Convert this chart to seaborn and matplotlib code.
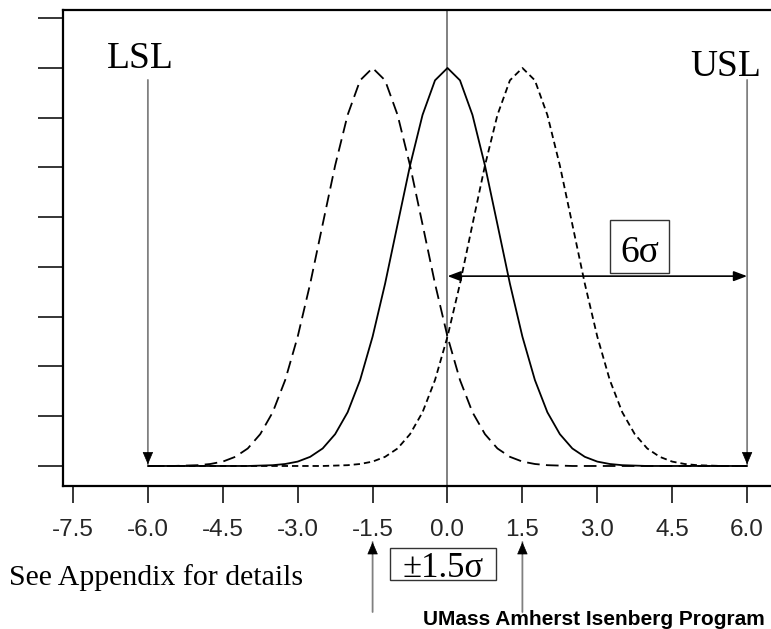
import matplotlib
matplotlib.use("Agg")
import matplotlib.pyplot as plt
import seaborn as sns
import pandas as pd
from matplotlib.patches import Rectangle

# ---- data (relative density heights) ----
x_grid = [-6.0, -5.75, -5.5, -5.25, -5.0, -4.75, -4.5, -4.25, -4.0, -3.75,
          -3.5, -3.25, -3.0, -2.75, -2.5, -2.25, -2.0, -1.75, -1.5, -1.25,
          -1.0, -0.75, -0.5, -0.25, 0.0, 0.25, 0.5, 0.75, 1.0, 1.25,
          1.5, 1.75, 2.0, 2.25, 2.5, 2.75, 3.0, 3.25, 3.5, 3.75,
          4.0, 4.25, 4.5, 4.75, 5.0, 5.25, 5.5, 5.75, 6.0]

centered = [0, 0, 0, 0, 0, 0, 0, 0, 0, 0.001,
            0.002, 0.005, 0.011, 0.023, 0.044, 0.080, 0.135, 0.216, 0.325, 0.458,
            0.607, 0.755, 0.882, 0.969, 1.000, 0.969, 0.882, 0.755, 0.607, 0.458,
            0.325, 0.216, 0.135, 0.080, 0.044, 0.023, 0.011, 0.005, 0.002, 0.001,
            0, 0, 0, 0, 0, 0, 0, 0, 0]

shifted_left = [0, 0, 0, 0.001, 0.002, 0.005, 0.011, 0.023, 0.044, 0.080,
                0.135, 0.216, 0.325, 0.458, 0.607, 0.755, 0.882, 0.969, 1.000, 0.969,
                0.882, 0.755, 0.607, 0.458, 0.325, 0.216, 0.135, 0.080, 0.044, 0.023,
                0.011, 0.005, 0.002, 0.001, 0, 0, 0, 0, 0, 0,
                0, 0, 0, 0, 0, 0, 0, 0, 0]

shifted_right = [0, 0, 0, 0, 0, 0, 0, 0, 0, 0,
                 0, 0, 0, 0, 0, 0.001, 0.002, 0.005, 0.011, 0.023,
                 0.044, 0.080, 0.135, 0.216, 0.325, 0.458, 0.607, 0.755, 0.882, 0.969,
                 1.000, 0.969, 0.882, 0.755, 0.607, 0.458, 0.325, 0.216, 0.135, 0.080,
                 0.044, 0.023, 0.011, 0.005, 0.002, 0.001, 0, 0, 0]

x_ticks = [-7.5, -6.0, -4.5, -3.0, -1.5, 0.0, 1.5, 3.0, 4.5, 6.0]
x_tick_labels = ["-7.5", "-6.0", "-4.5", "-3.0", "-1.5", "0.0", "1.5", "3.0", "4.5", "6.0"]
y_ticks = [0, 0.125, 0.25, 0.375, 0.5, 0.625, 0.75, 0.875, 1.0, 1.125]

LSL, USL, center = -6.0, 6.0, 0.0
shift_marks = [-1.5, 1.5]

# ---- style ----
sns.set_theme(style="white")
plt.rcParams["font.family"] = ["Liberation Sans", "DejaVu Sans"]
plt.rcParams["axes.unicode_minus"] = False

W, H = 771, 629
fig = plt.figure(figsize=(W / 100, H / 100), dpi=100)
# axes extends beyond the right edge of the figure (as in the reference)
ax = fig.add_axes([63 / W, (H - 486) / H, (832 - 63) / W, 476 / H])

df = pd.DataFrame({
    "x": x_grid * 3,
    "y": centered + shifted_left + shifted_right,
    "curve": ["center"] * 49 + ["left"] * 49 + ["right"] * 49,
})

sns.lineplot(data=df[df.curve == "center"], x="x", y="y", ax=ax, color="black",
             lw=1.3, estimator=None, sort=False, legend=False)
sns.lineplot(data=df[df.curve == "left"], x="x", y="y", ax=ax, color="black",
             lw=1.3, estimator=None, sort=False, legend=False, linestyle=(0, (7, 3.5)))
sns.lineplot(data=df[df.curve == "right"], x="x", y="y", ax=ax, color="black",
             lw=1.3, estimator=None, sort=False, legend=False, linestyle=(0, (3.5, 2.2)))

ax.set_xlim(-7.7, 7.7)
ax.set_ylim(-0.0503, 1.1457)
ax.set_xlabel("")
ax.set_ylabel("")
ax.set_xticks(x_ticks)
ax.set_xticklabels(x_tick_labels, fontsize=17.5)
ax.set_yticks(y_ticks)
ax.set_yticklabels([])
ax.tick_params(axis="x", direction="out", length=12, width=1.1, color="black",
               pad=12, bottom=True)
ax.tick_params(axis="y", direction="out", length=18, width=1.1, color="black", left=True)
for s in ["left", "top", "bottom"]:
    ax.spines[s].set_color("black")
    ax.spines[s].set_linewidth(1.6)
ax.spines["right"].set_visible(False)

gray = "#808080"
ax.axvline(center, color=gray, lw=1.4, zorder=1)

serif = ["Liberation Serif", "DejaVu Serif"]


def down_arrow(x, y_top):
    ax.annotate("", xy=(x, 0.004), xytext=(x, y_top),
                arrowprops=dict(arrowstyle="-", color=gray, lw=1.3, shrinkA=0, shrinkB=0))
    ax.annotate("", xy=(x, 0.004), xytext=(0, 12), textcoords="offset pixels",
                arrowprops=dict(arrowstyle="-|>,head_length=0.8,head_width=0.34",
                                color="black", lw=0.5, shrinkA=0, shrinkB=0,
                                mutation_scale=10))


down_arrow(LSL, 0.97)
down_arrow(USL, 0.97)

# spec labels
fig.text(140.5 / W, (H - 68.5) / H, "LSL", family=serif, fontsize=27,
         ha="center", va="baseline", color="black")
fig.text(726 / W, (H - 76) / H, "USL", family=serif, fontsize=27,
         ha="center", va="baseline", color="black")

# 6 sigma double arrow
ax.annotate("", xy=(center, 0.477), xytext=(USL, 0.477),
            arrowprops=dict(arrowstyle="<|-|>,head_length=0.8,head_width=0.3",
                            color="black", lw=1.2, shrinkA=0, shrinkB=0, mutation_scale=10))
fig.patches.append(Rectangle((610 / W, (H - 273) / H), 59 / W, 53 / H,
                             transform=fig.transFigure, fill=False, ec="#333333", lw=1.0))
fig.text(639.5 / W, (H - 262) / H, "6σ", family=serif, fontsize=27,
         ha="center", va="baseline", color="black")

# shift arrows below the axis
xt = ax.get_xaxis_transform()
for xm in shift_marks:
    ax.annotate("", xy=(xm, (486 - 542) / 476), xytext=(xm, (486 - 612) / 476),
                xycoords=xt, textcoords=xt, annotation_clip=False,
                arrowprops=dict(arrowstyle="-", color=gray, lw=1.3, shrinkA=0, shrinkB=0))
    ax.annotate("", xy=(xm, (486 - 542) / 476), xytext=(0, -12), xycoords=xt,
                textcoords="offset pixels", annotation_clip=False,
                arrowprops=dict(arrowstyle="-|>,head_length=0.8,head_width=0.34",
                                color="black", lw=0.5, shrinkA=0, shrinkB=0,
                                mutation_scale=10))

fig.patches.append(Rectangle((390 / W, (H - 580) / H), 106 / W, 32 / H,
                             transform=fig.transFigure, fill=False, ec="#333333", lw=1.0))
fig.text(443 / W, (H - 577) / H, "±1.5σ", family=serif, fontsize=25,
         ha="center", va="baseline", color="black")

fig.text(9 / W, (H - 585) / H, "See Appendix for details", family=serif, fontsize=21.5,
         ha="left", va="baseline", color="black")
fig.text(423 / W, (H - 625) / H, "UMass Amherst Isenberg Program",
         family=["Liberation Sans", "DejaVu Sans"], fontweight="bold", fontsize=15,
         ha="left", va="baseline", color="black")

fig.savefig("out.png", dpi=100)
